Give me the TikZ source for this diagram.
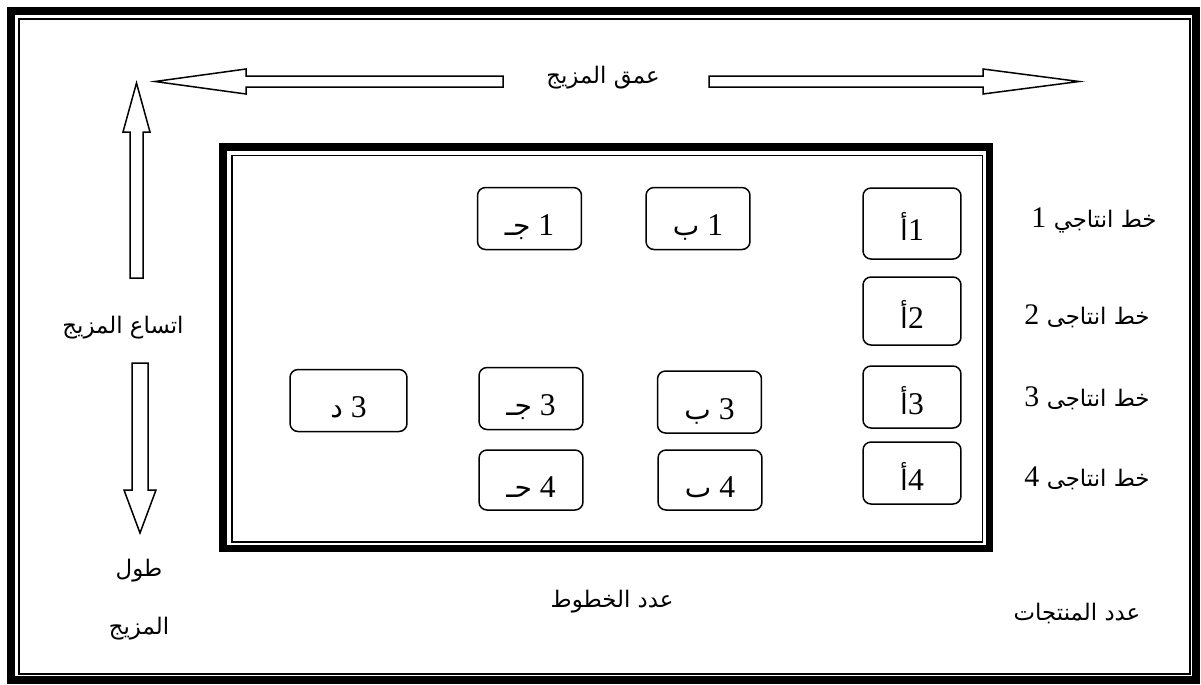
\documentclass[tikz,border=0pt]{standalone}
\usepackage{fontspec}
\setmainfont{Liberation Serif}
\newfontfamily\arabicfont[Script=Arabic]{DejaVu Sans}
\TeXXeTstate=1
\usepackage{tikz}

\tikzset{
  frameline/.style={line width=0.15cm},
  thinline/.style={line width=0.032cm},
  hollowarrow/.style={draw, line width=0.03cm, line join=miter},
  prodbox/.style={draw, line width=0.03cm, rounded corners=0.16cm,
    minimum width=2.08cm, minimum height=1.24cm, inner sep=0pt,
    text height=0.68cm, text depth=0pt, font=\fontsize{18}{20}\selectfont},
  arlabel/.style={inner sep=0pt, font=\fontsize{17}{20}\selectfont}
}
\newcommand{\ar}[1]{{\fontsize{13}{16}\arabicfont #1}}
\newcommand{\arbox}[1]{{\fontsize{16}{18}\arabicfont #1}}

\begin{document}
\begin{tikzpicture}[x=0.02cm,y=-0.02cm]
  \useasboundingbox (0,0) rectangle (1201,684);
  % outer and inner frames
  \draw[frameline] (11,11) rectangle (1196,680);
  \draw[thinline] (19,19) rectangle (1190,674);
  \draw[frameline] (223,147) rectangle (989.5,548.5);
  \draw[thinline] (232,155.5) rectangle (982.5,542);

  % block arrows
  \draw[hollowarrow] (503,76) -- (246,76) -- (246,69) -- (155,81.5) -- (246,94) -- (246,87) -- (503,87) -- cycle;
  \draw[hollowarrow] (709,76) -- (983,76) -- (983,69) -- (1079,81.5) -- (983,94) -- (983,87) -- (709,87) -- cycle;
  \draw[hollowarrow] (130,278) -- (130,132) -- (123,132) -- (136.5,83) -- (150,132) -- (143,132) -- (143,278) -- cycle;
  \draw[hollowarrow] (132,363) -- (132,490) -- (124,490) -- (140,533) -- (156,490) -- (148,490) -- (148,363) -- cycle;

  % axis labels
  \node[arlabel] (depth) at (603,78) {\beginR\ar{عمق المزيج}\endR};
  \node[arlabel] (width) at (123,328) {\beginR\ar{اتساع المزيج}\endR};
  \node[arlabel] (len1) at (139,571) {\beginR\ar{طول}\endR};
  \node[arlabel] (len2) at (139,629) {\beginR\ar{المزيج}\endR};
  \node[arlabel] (nlines) at (612,602) {\beginR\ar{عدد الخطوط}\endR};
  \node[arlabel] (nprod) at (1077,613) {\beginR\ar{عدد المنتجات}\endR};

  % production lines
  \node[arlabel] (line1) at (1094,220) {\beginR\ar{خط انتاجي} 1\endR};
  \foreach \n/\y in {2/316,3/398,4/478}
    \node[arlabel] (line\n) at (1087,\y) {\beginR\ar{خط انتاجى} \n\endR};

  % product boxes
  \node[prodbox, minimum width=1.96cm, minimum height=1.42cm] (a1) at (912,223.5) {\beginR 1\arbox{أ}\endR};
  \node[prodbox, minimum width=1.96cm, minimum height=1.36cm] (a2) at (912,311) {\beginR 2\arbox{أ}\endR};
  \node[prodbox, minimum width=1.96cm] (a3) at (912,397) {\beginR 3\arbox{أ}\endR};
  \node[prodbox, minimum width=1.96cm] (a4) at (912,473) {\beginR 4\arbox{أ}\endR};
  \node[prodbox] (b1) at (698,218.5) {\beginR 1 \arbox{ب}\endR};
  \node[prodbox] (c1) at (529.5,218.5) {\beginR 1 \arbox{جـ}\endR};
  \node[prodbox, minimum width=2.34cm] (d3) at (348.5,400.5) {\beginR 3 \arbox{د}\endR};
  \node[prodbox] (c3) at (531,398.5) {\beginR 3 \arbox{جـ}\endR};
  \node[prodbox] (b3) at (709.5,402) {\beginR 3 \arbox{ب}\endR};
  \node[prodbox, minimum height=1.2cm] (c4) at (531,480) {\beginR 4 \arbox{حـ}\endR};
  \node[prodbox, minimum height=1.2cm] (b4) at (710,480) {\beginR 4 \arbox{ٮ}\endR};
\end{tikzpicture}
\end{document}
